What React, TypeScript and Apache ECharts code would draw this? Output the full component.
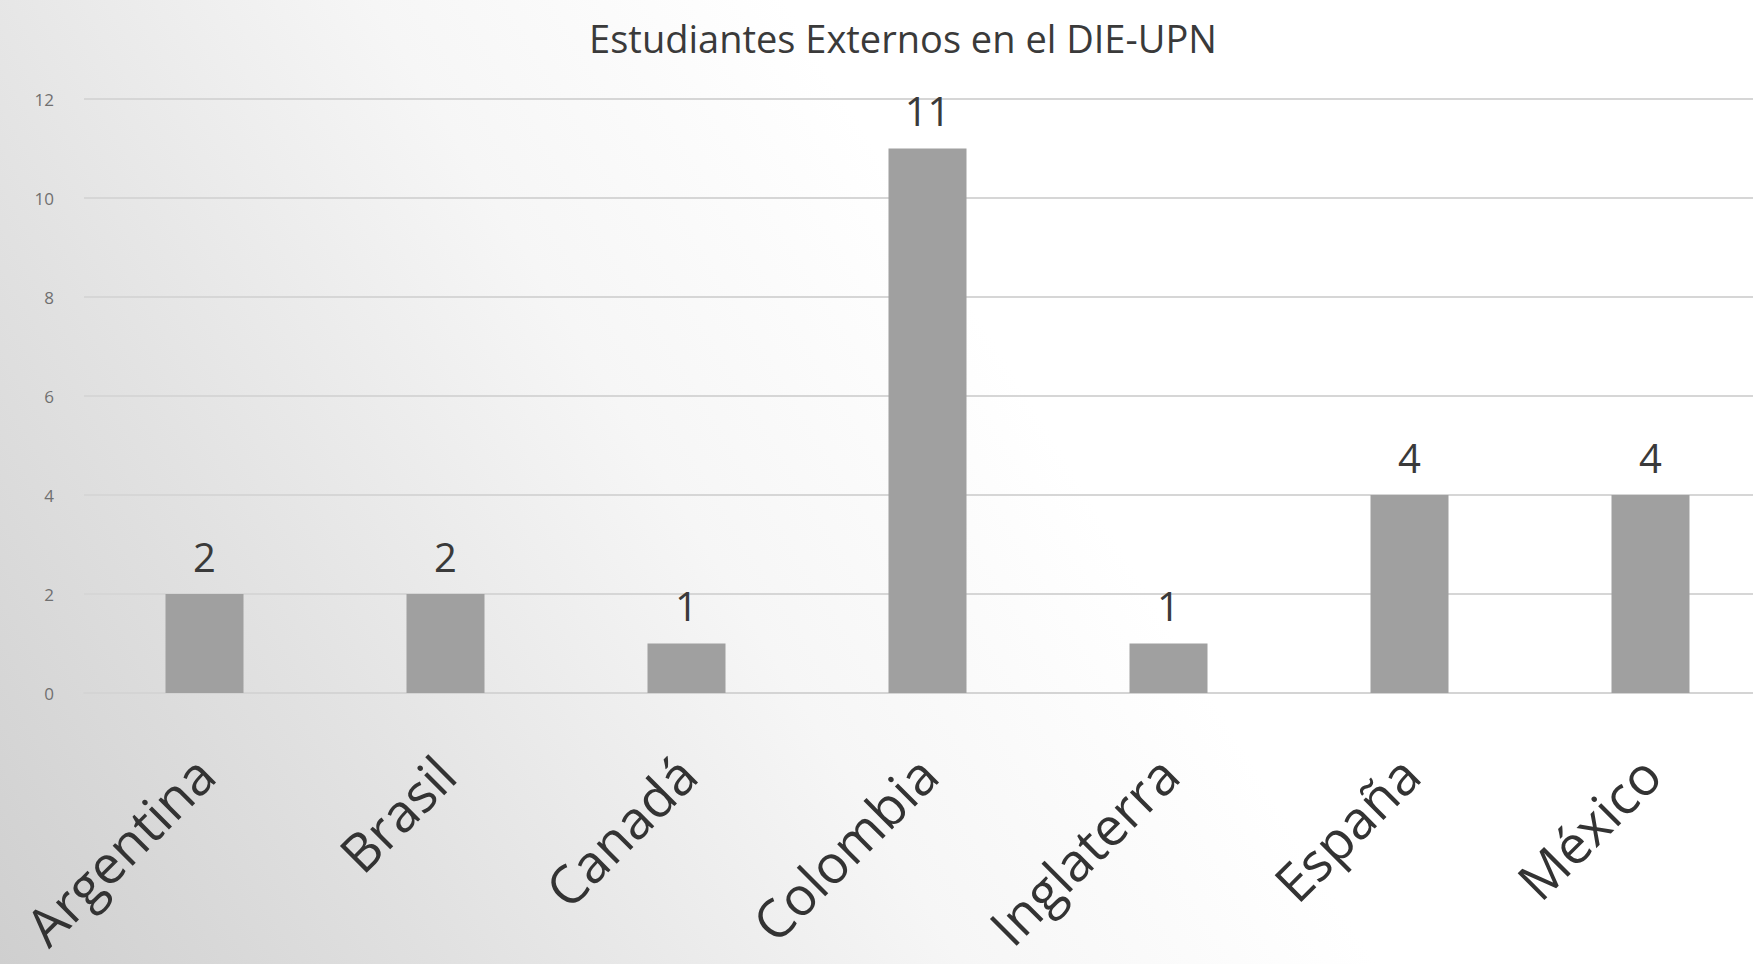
import React, { useEffect, useRef } from "react";
import * as echarts from "echarts";

const titleText = "Estudiantes Externos en el DIE-UPN";
const countries = ["Argentina", "Brasil", "Canadá", "Colombia", "Inglaterra", "España", "México"];
const students = [2, 2, 1, 11, 1, 4, 4];
const yMin = 0;
const yMax = 12;
const yStep = 2;

export default function App() {
  const ref = useRef<HTMLDivElement>(null);
  useEffect(() => {
    if (!ref.current) return;
    const chart = echarts.init(ref.current, null, { renderer: "svg" });
    chart.setOption({
      animation: false,
      backgroundColor: new echarts.graphic.LinearGradient(
        0, 964, 1000, 350,
        [
          { offset: 0, color: "#cfcfcf" },
          { offset: 0.35, color: "#e2e2e2" },
          { offset: 0.7, color: "#f6f6f6" },
          { offset: 1, color: "#ffffff" },
        ],
        true
      ),
      title: {
        text: titleText,
        left: 898,
        textAlign: "center",
        top: 14,
        textStyle: {
          fontFamily: "Open Sans",
          fontWeight: "normal",
          fontSize: 38,
          color: "#3a3a3a",
        },
      },
      grid: {
        left: 84,
        top: 99,
        width: 1687,
        height: 594,
        containLabel: false,
        outerBoundsMode: "none",
      },
      xAxis: {
        type: "category",
        data: countries,
        axisLine: { show: true, lineStyle: { color: "#d4d4d4", width: 2 } },
        axisTick: { show: false },
        axisLabel: {
          rotate: 45,
          margin: 72,
          interval: 0,
          fontFamily: "Open Sans",
          fontSize: 53,
          color: "#333333",
        },
      },
      yAxis: {
        type: "value",
        min: yMin,
        max: yMax,
        interval: yStep,
        axisLine: { show: false },
        axisTick: { show: false },
        axisLabel: {
          margin: 30,
          fontFamily: "Open Sans",
          fontSize: 17,
          color: "#707070",
        },
        splitLine: { lineStyle: { color: "#d6d6d6", width: 2 } },
      },
      series: [
        {
          type: "bar",
          data: students,
          barWidth: 78,
          itemStyle: { color: "#a0a0a0" },
          label: {
            show: true,
            position: "top",
            distance: 18,
            fontFamily: "Open Sans",
            fontSize: 40,
            color: "#3a3a3a",
          },
        },
      ],
    });
    return () => chart.dispose();
  }, []);
  return (
    <div
      ref={ref}
      style={{ position: "fixed", left: 0, top: 0, width: 1753, height: 964 }}
    />
  );
}
